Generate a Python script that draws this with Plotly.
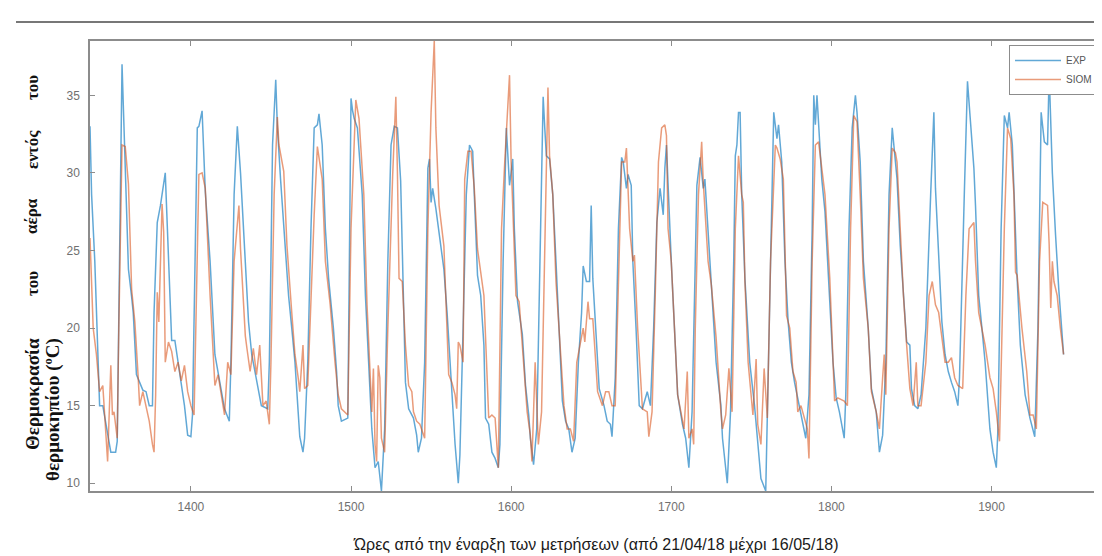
import plotly.graph_objects as go

# ---- data (hours since start, temperature °C) ----
exp_hours = [1337,1338,1340,1343,1345,1350,1353,1354,1357,1359,1361,1363,1364,1366,1368,1370,1372,1374,1376,1377,
             1379,1381,1384,1386,1388,1390,1392,1394,1396,1398,1400,1401,1402,1404,1405,1407,1409,1412,1415,1418,
             1421,1424,1425,1427,1429,1431,1434,1436,1438,1440,1442,1444,1448,1449,1450,1451,1453,1454,1456,1459,
             1461,1463,1465,1467,1468,1470,1471,1473,1475,1477,1479,1480,1482,1484,1486,1489,1491,1492,1494,1498,
             1499,1500,1501,1502,1504,1507,1509,1511,1513,1515,1517,1519,1521,1523,1525,1527,1529,1531,1534,1536,
             1539,1541,1542,1544,1546,1548,1549,1550,1551,1553,1555,1558,1560,1562,1564,1565,1567,1568,1570,1572,
             1574,1576,1577,1579,1581,1583,1584,1586,1588,1590,1592,1593,1595,1597,1599,1601,1602,1604,1607,1609,
             1611,1612,1614,1616,1618,1620,1621,1622,1624,1626,1628,1630,1632,1634,1636,1638,1640,1642,1644,1645,
             1647,1649,1650,1651,1653,1655,1658,1660,1662,1663,1665,1667,1669,1670,1672,1673,1675,1676,1678,1680,
             1682,1685,1687,1689,1691,1693,1695,1696,1697,1698,1700,1702,1704,1707,1709,1711,1713,1715,1716,1718,
             1720,1721,1723,1725,1728,1731,1732,1735,1737,1739,1740,1741,1742,1743,1744,1746,1749,1752,1754,1756,
             1759,1761,1763,1764,1766,1767,1769,1771,1773,1775,1777,1780,1782,1784,1786,1788,1789,1790,1791,1792,
             1794,1796,1799,1801,1803,1805,1808,1809,1811,1813,1815,1816,1818,1820,1823,1825,1828,1830,1832,1834,
             1836,1838,1839,1841,1843,1845,1847,1849,1850,1852,1854,1856,1859,1862,1863,1864,1865,1867,1869,1871,
             1873,1875,1877,1879,1880,1883,1885,1887,1889,1890,1892,1894,1896,1899,1901,1903,1904,1906,1908,1910,
             1911,1913,1914,1916,1918,1921,1924,1926,1927,1929,1931,1933,1935,1936,1938,1940,1942,1945]
exp_temp = [33.0,28.6,24.3,15.0,15.0,12.0,12.0,12.7,37.0,30.7,23.8,22.0,21.0,17.0,16.5,16.0,15.9,15.0,15.0,21.0,
            26.8,27.9,30.0,24.3,19.2,19.2,17.8,16.3,15.0,13.1,13.0,14.4,20.0,32.9,33.0,34.0,28.8,24.3,18.3,16.5,
            14.8,14.0,17.8,28.6,33.0,30.0,24.3,20.4,18.3,17.2,16.1,15.0,14.8,17.8,24.3,31.8,36.0,33.0,29.6,25.4,
            22.1,20.0,17.8,14.6,13.0,12.0,12.9,17.8,26.4,32.9,33.1,33.8,31.8,26.4,23.2,20.0,17.2,15.0,14.0,14.2,
            24.3,34.8,34.0,33.5,32.9,28.6,22.1,17.8,13.5,11.0,11.4,9.5,13.5,24.3,31.8,33.0,32.9,29.5,16.5,14.8,
            14.2,13.1,12.0,12.9,17.8,30.3,30.9,28.1,29.0,27.7,26.0,23.8,21.0,17.8,14.0,12.5,10.0,11.8,20.0,28.6,
            31.8,31.4,28.6,23.4,22.1,18.9,14.2,13.8,12.0,11.6,11.0,12.5,24.3,32.9,29.2,30.9,26.4,21.7,19.6,16.3,
            14.4,12.9,11.2,13.5,24.3,34.9,32.9,31.1,30.9,28.6,24.3,20.0,15.3,14.0,13.5,12.0,12.9,17.8,21.0,24.0,
            23.0,23.0,27.9,23.2,20.0,16.1,15.0,14.0,13.8,13.0,16.8,26.4,31.0,30.7,29.0,29.9,29.2,24.3,20.0,15.0,
            14.8,15.9,15.0,20.0,26.8,29.0,27.3,30.3,31.8,29.0,24.3,20.0,15.7,13.8,12.9,11.0,14.6,24.3,29.2,31.0,
            29.0,29.6,26.4,23.2,17.8,15.0,12.9,10.0,14.6,24.3,31.1,31.8,33.9,33.9,28.6,23.2,17.8,15.0,12.5,10.3,
            9.5,20.0,30.7,33.9,32.2,33.1,30.7,24.3,20.4,17.8,16.5,15.0,14.0,12.9,15.7,26.4,35.0,33.1,35.0,32.9,
            29.6,27.5,22.1,17.8,15.5,14.6,12.9,15.7,26.4,32.9,35.0,33.9,30.7,24.3,20.0,16.1,14.6,12.0,13.1,17.8,
            28.6,32.9,31.8,29.6,25.3,22.1,19.1,18.9,16.1,15.0,14.8,15.7,20.0,28.6,31.1,33.9,29.0,24.3,20.4,18.3,
            17.2,16.5,15.9,15.0,16.8,28.6,35.9,33.1,30.3,27.9,22.1,20.0,17.8,13.5,12.0,11.0,13.5,26.4,33.7,32.9,
            33.9,31.8,28.6,23.2,18.9,15.7,14.2,13.5,13.0,20.0,33.9,32.0,31.8,36.5,30.0,26.0,22.5,18.3]

siom_hours = [1337,1339,1341,1343,1345,1348,1350,1351,1352,1354,1355,1357,1359,1361,1363,1365,1367,1368,1370,1372,
              1374,1376,1377,1378,1379,1380,1382,1383,1384,1386,1388,1390,1392,1394,1396,1398,1400,1402,1403,1405,
              1407,1409,1412,1415,1417,1419,1421,1423,1425,1427,1430,1431,1434,1435,1437,1439,1441,1443,1445,1447,
              1449,1450,1452,1454,1455,1458,1460,1463,1465,1467,1468,1470,1471,1473,1475,1477,1479,1482,1484,1487,
              1490,1492,1494,1496,1498,1500,1503,1505,1508,1510,1512,1513,1514,1515,1516,1517,1518,1519,1521,1523,
              1526,1528,1529,1530,1532,1534,1536,1538,1539,1541,1543,1545,1546,1548,1550,1552,1553,1555,1558,1561,
              1563,1565,1566,1567,1568,1570,1571,1573,1575,1577,1579,1583,1586,1588,1590,1592,1594,1596,1599,1600,
              1603,1605,1608,1610,1612,1613,1615,1617,1619,1621,1623,1624,1626,1628,1630,1633,1635,1637,1639,1641,
              1643,1645,1646,1648,1649,1651,1652,1654,1657,1659,1661,1663,1665,1667,1669,1671,1672,1674,1676,1677,
              1679,1682,1685,1686,1688,1690,1692,1694,1696,1697,1698,1700,1702,1704,1708,1710,1711,1713,1714,1715,
              1717,1719,1720,1721,1723,1725,1728,1731,1732,1734,1736,1738,1740,1742,1744,1745,1746,1748,1751,1753,
              1754,1756,1758,1760,1762,1765,1766,1768,1770,1772,1774,1776,1778,1779,1781,1785,1786,1788,1790,1792,
              1794,1796,1799,1801,1802,1804,1808,1810,1812,1814,1816,1818,1820,1823,1825,1828,1830,1832,1833,1834,
              1836,1838,1840,1841,1843,1845,1847,1849,1851,1853,1854,1856,1859,1861,1863,1865,1867,1869,1871,1873,
              1875,1877,1879,1882,1884,1886,1889,1890,1892,1896,1899,1901,1903,1905,1908,1910,1912,1914,1915,1916,
              1919,1922,1924,1926,1928,1930,1932,1935,1936,1937,1938,1939,1941,1943,1945]
siom_temp = [25.8,20.0,18.3,15.9,16.3,11.4,17.6,14.4,14.6,12.9,20.0,31.8,31.7,29.3,22.5,20.4,17.0,15.0,15.9,15.0,
             14.0,12.5,12.0,15.7,22.3,20.4,28.0,26.2,17.8,19.1,18.5,17.2,17.8,16.6,17.6,15.9,15.0,14.4,20.0,29.9,
             30.0,29.0,22.1,16.3,17.0,15.7,14.4,17.8,17.0,24.3,27.9,25.1,19.5,18.7,17.2,18.7,17.0,18.9,15.0,15.3,
             13.8,17.8,28.6,33.6,31.8,30.1,25.3,21.0,18.3,16.8,15.9,18.9,16.1,16.3,22.1,27.3,31.7,29.6,24.3,21.5,
             17.8,15.7,14.8,14.6,14.4,26.4,34.7,33.5,28.6,21.5,16.8,14.6,17.4,12.5,11.4,17.6,16.8,12.9,12.0,20.0,
             29.8,34.9,30.0,23.2,23.0,18.9,16.3,15.9,14.6,14.0,13.8,13.1,12.9,26.4,33.9,38.5,32.9,27.9,25.3,17.0,
             16.5,15.7,14.8,19.1,18.9,17.8,29.6,31.4,31.4,29.0,25.1,22.1,14.2,14.4,14.2,11.0,26.4,30.7,36.3,30.7,
             22.1,21.7,17.8,14.6,13.1,11.4,17.8,12.5,14.6,24.3,35.5,31.1,28.6,23.0,20.0,15.0,13.5,13.5,12.7,17.8,
             18.9,20.0,19.1,21.7,20.6,20.6,19.1,15.9,15.0,15.9,15.9,15.0,15.0,22.1,30.7,30.7,31.6,26.4,24.3,24.7,
             20.0,14.8,14.6,13.0,14.6,22.1,30.7,32.9,33.1,32.4,26.4,24.3,20.0,15.7,13.5,17.2,12.9,13.5,12.5,20.0,
             28.6,32.0,29.4,27.5,24.3,22.8,19.4,14.6,13.5,14.4,17.4,14.6,26.4,31.1,28.6,28.1,23.0,17.8,14.4,18.0,
             13.8,12.5,17.4,14.2,24.3,31.8,31.6,30.9,29.6,20.8,20.0,17.2,16.5,14.6,15.0,13.5,11.6,24.3,31.8,32.0,
             30.3,28.6,23.2,17.2,15.3,15.5,15.3,15.0,26.4,33.7,33.3,28.6,23.2,20.0,15.9,14.6,13.5,16.8,18.3,15.7,
             26.4,31.6,31.3,30.7,26.4,22.1,18.9,16.1,15.0,17.8,15.0,15.0,17.8,22.1,23.0,21.5,21.0,19.3,17.8,17.8,
             18.1,16.8,16.3,16.1,22.1,26.4,26.8,24.3,21.0,18.9,16.8,16.1,14.6,12.7,26.4,32.9,32.2,28.6,23.6,23.4,
             20.0,17.2,14.4,14.4,13.5,24.3,28.1,27.9,25.4,21.3,24.3,23.0,22.1,20.0,18.3]

x_ticks = [1400, 1500, 1600, 1700, 1800, 1900]
y_ticks = [10, 15, 20, 25, 30, 35]
x_range = [1337, 1969]
y_range = [9.5, 38.5]

x_title = "Ώρες από την έναρξη των μετρήσεων (από 21/04/18 μέχρι 16/05/18)"
y_words_line1 = ["του", "εντός", "αέρα", "του", "Θερμοκρασία"]
y_line2 = "θερμοκηπίου (ºC)"

# ---- figure ----
fig = go.Figure()
fig.add_trace(go.Scatter(x=exp_hours, y=exp_temp, mode="lines", name="EXP",
                         line=dict(color="rgba(0,114,189,0.62)", width=1.5)))
fig.add_trace(go.Scatter(x=siom_hours, y=siom_temp, mode="lines", name="SIOM",
                         line=dict(color="rgba(217,83,25,0.58)", width=1.5)))

axis_common = dict(showline=True, linecolor="#8c8c8c", linewidth=1.5, mirror="ticks",
                   ticks="inside", ticklen=5, tickwidth=1.2, tickcolor="#8c8c8c",
                   showgrid=False, zeroline=False, automargin=False,
                   tickfont=dict(family="Liberation Sans, Arial, sans-serif", size=12, color="#707070"))

fig.update_xaxes(range=x_range, tickvals=x_ticks, ticktext=[str(v) for v in x_ticks],
                 ticklabelstandoff=4, **axis_common)
fig.update_yaxes(range=y_range, tickvals=y_ticks, ticktext=[str(v) for v in y_ticks],
                 ticklabelstandoff=6, **axis_common)

L, R, T, B = 82, 8, 33, 73
W, H = 1102, 556
pw, ph = W - L - R, H - T - B

def px_x(px):
    return (px - L) / pw

def px_y(py):
    return (H - B - py) / ph

serif = "Liberation Serif, Times New Roman, serif"
annotations = [
    dict(text=x_title, xref="paper", yref="paper", x=0.5, y=px_y(537), showarrow=False,
         xanchor="center", yanchor="middle",
         font=dict(family="Liberation Sans, Arial, sans-serif", size=16, color="#1a1a1a")),
]
word_centers = [80, 142, 208, 276, 386]
word_sizes = [17, 17, 17, 17, 19]
for w, cy, fs in zip(y_words_line1, word_centers, word_sizes):
    annotations.append(dict(text=w, xref="paper", yref="paper", x=px_x(24), y=px_y(cy),
                            showarrow=False, textangle=-90, xanchor="center", yanchor="middle",
                            font=dict(family=serif, size=fs, color="#111111", weight="bold")))
annotations.append(dict(text=y_line2, xref="paper", yref="paper", x=px_x(45), y=px_y(402),
                        showarrow=False, textangle=-90, xanchor="center", yanchor="middle",
                        font=dict(family=serif, size=19, color="#111111", weight="bold")))

fig.update_layout(
    width=W, height=H,
    margin=dict(l=L, r=R, t=T, b=B, pad=0, autoexpand=False),
    paper_bgcolor="white", plot_bgcolor="white",
    showlegend=True,
    legend=dict(x=px_x(1090), y=px_y(37), xanchor="right", yanchor="top",
                bgcolor="white", bordercolor="#8c8c8c", borderwidth=1,
                font=dict(family="Liberation Sans, Arial, sans-serif", size=10, color="#555555"),
                tracegroupgap=0, itemwidth=46),
    annotations=annotations,
    shapes=[dict(type="line", xref="paper", yref="paper",
                 x0=px_x(8), x1=px_x(1102), y0=px_y(14), y1=px_y(14),
                 line=dict(color="#777777", width=2))],
)

fig.write_html("out.html")
